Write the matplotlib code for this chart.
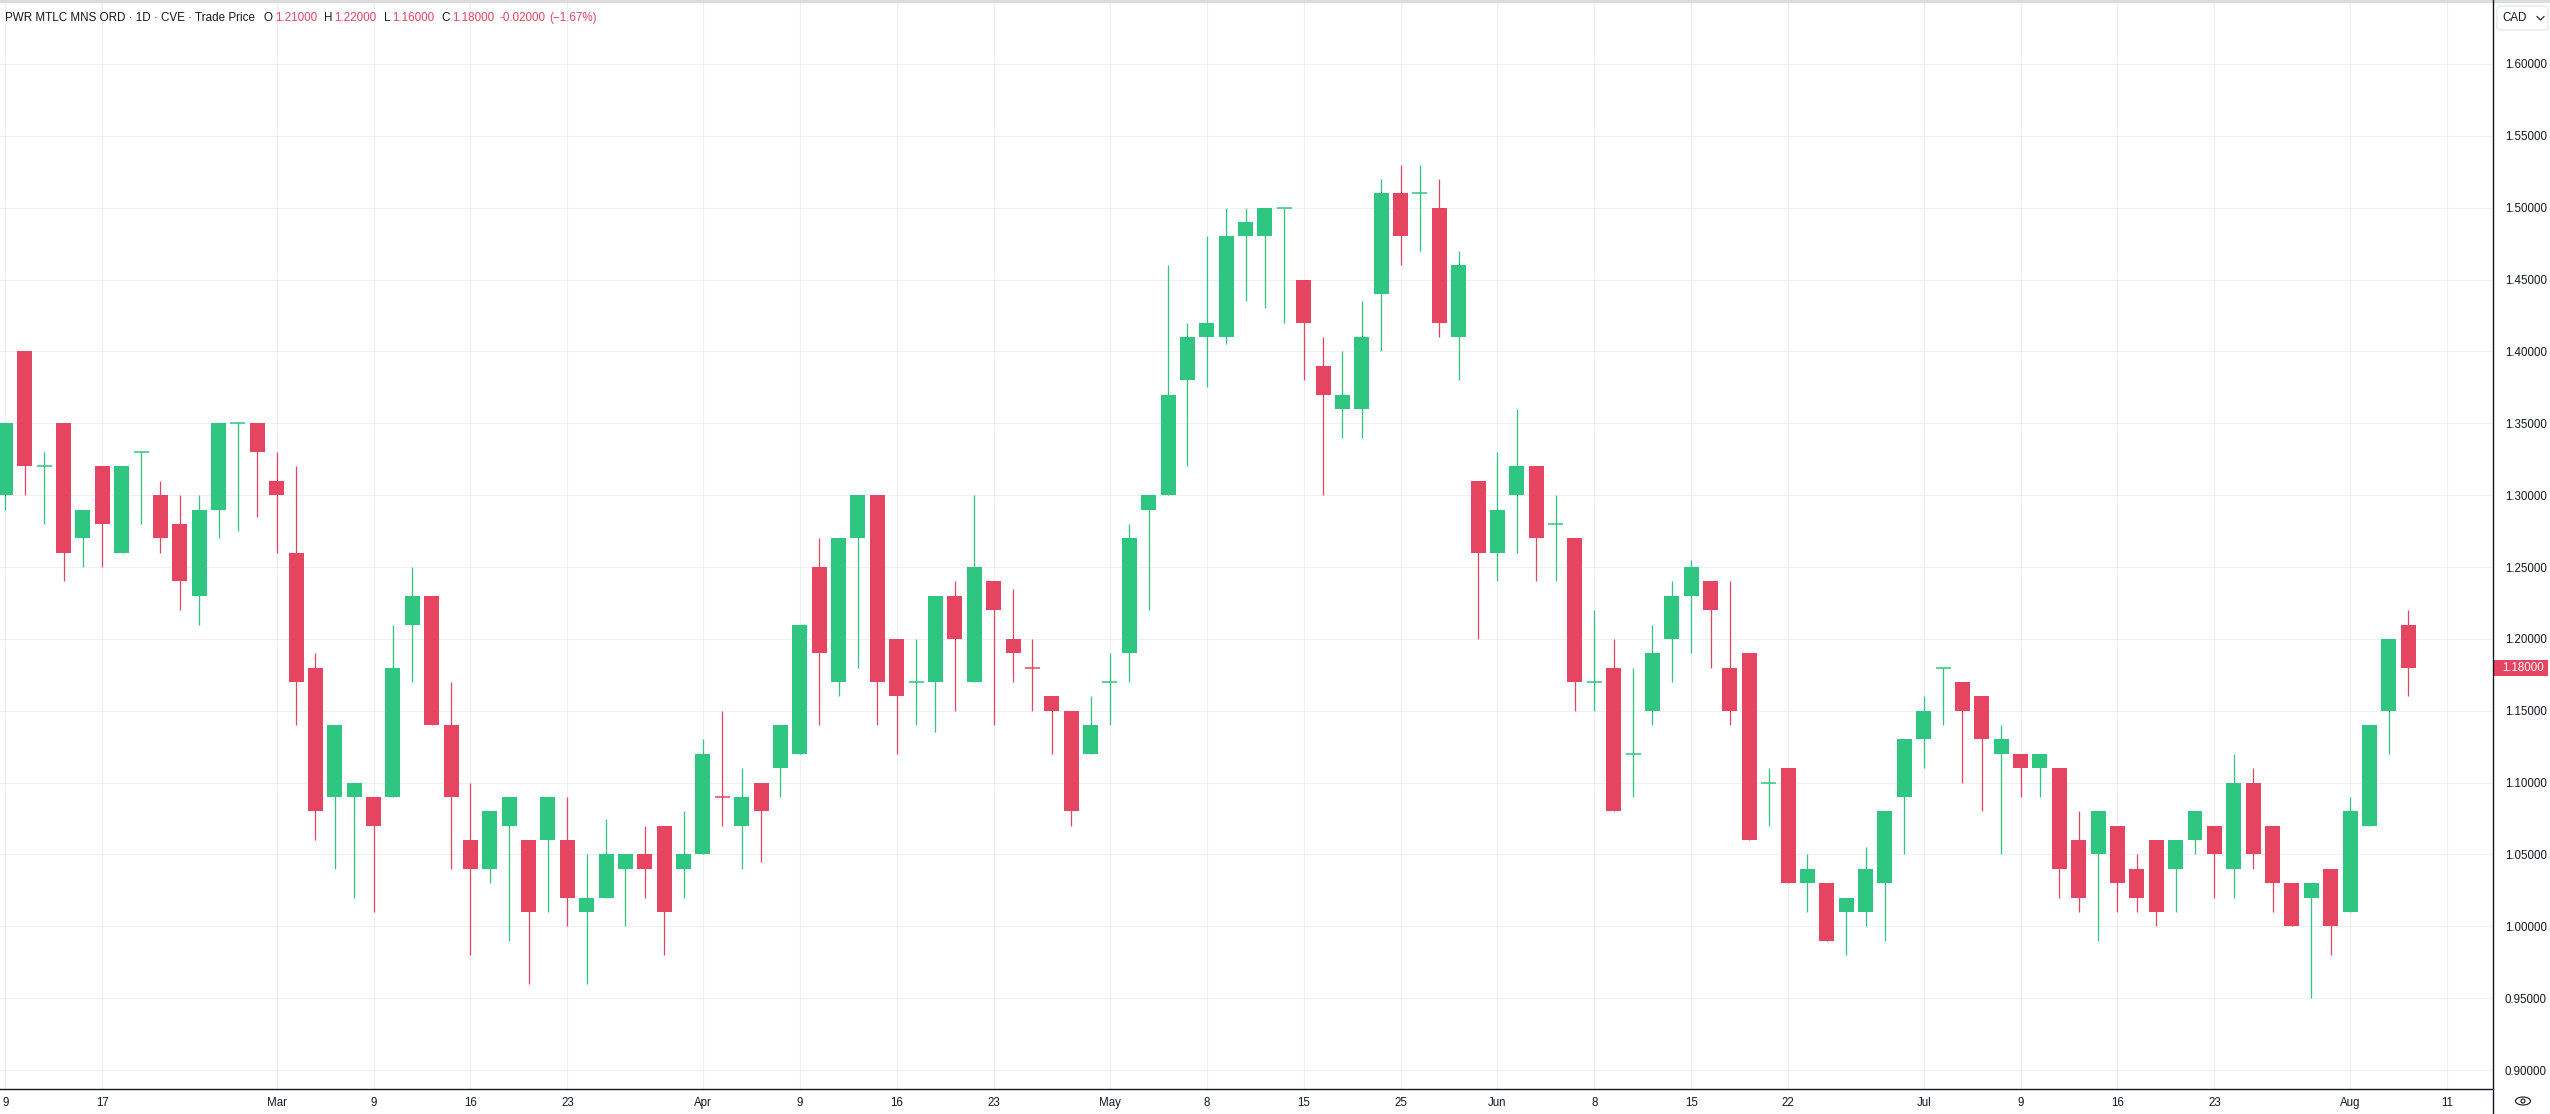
import numpy as np
import pandas as pd
import matplotlib
matplotlib.use('Agg')
import matplotlib.pyplot as plt
import matplotlib.transforms as mtransforms
from matplotlib.patches import Ellipse, FancyBboxPatch, Rectangle
from matplotlib.lines import Line2D

plt.rcParams['font.family'] = ['Liberation Sans', 'DejaVu Sans']

# -----------------------------
# data (daily OHLC, CVE, CAD)
# -----------------------------
opens = [1.30, 1.40, 1.32, 1.35, 1.27, 1.32, 1.26, 1.33, 1.30, 1.28,
         1.23, 1.29, 1.35, 1.35, 1.31, 1.26, 1.18, 1.09, 1.09, 1.09,
         1.09, 1.21, 1.23, 1.14, 1.06, 1.04, 1.07, 1.06, 1.06, 1.06,
         1.01, 1.02, 1.04, 1.05, 1.07, 1.04, 1.05, 1.09, 1.07, 1.10,
         1.11, 1.12, 1.25, 1.17, 1.27, 1.30, 1.20, 1.17, 1.17, 1.23,
         1.17, 1.24, 1.20, 1.18, 1.16, 1.15, 1.12, 1.17, 1.19, 1.29,
         1.30, 1.38, 1.41, 1.41, 1.48, 1.48, 1.50, 1.45, 1.39, 1.36,
         1.36, 1.44, 1.51, 1.51, 1.50, 1.41, 1.31, 1.26, 1.30, 1.32,
         1.28, 1.27, 1.17, 1.18, 1.12, 1.15, 1.20, 1.23, 1.24, 1.18,
         1.19, 1.10, 1.11, 1.03, 1.03, 1.01, 1.01, 1.03, 1.09, 1.13,
         1.18, 1.17, 1.16, 1.12, 1.12, 1.11, 1.11, 1.06, 1.05, 1.07,
         1.04, 1.06, 1.04, 1.06, 1.07, 1.04, 1.10, 1.07, 1.03, 1.02,
         1.04, 1.01, 1.07, 1.15, 1.21]
highs = [1.35, 1.40, 1.33, 1.35, 1.29, 1.32, 1.32, 1.33, 1.31, 1.30,
         1.30, 1.35, 1.35, 1.35, 1.33, 1.32, 1.19, 1.14, 1.10, 1.09,
         1.21, 1.25, 1.23, 1.17, 1.10, 1.08, 1.09, 1.06, 1.09, 1.09,
         1.05, 1.075, 1.05, 1.07, 1.07, 1.08, 1.13, 1.15, 1.11, 1.10,
         1.14, 1.21, 1.27, 1.27, 1.30, 1.30, 1.20, 1.20, 1.23, 1.24,
         1.30, 1.24, 1.235, 1.20, 1.16, 1.15, 1.16, 1.19, 1.28, 1.30,
         1.46, 1.42, 1.48, 1.50, 1.50, 1.50, 1.50, 1.45, 1.41, 1.40,
         1.435, 1.52, 1.53, 1.53, 1.52, 1.47, 1.31, 1.33, 1.36, 1.32,
         1.30, 1.27, 1.22, 1.20, 1.18, 1.21, 1.24, 1.255, 1.24, 1.24,
         1.19, 1.11, 1.11, 1.05, 1.03, 1.02, 1.055, 1.08, 1.13, 1.16,
         1.18, 1.17, 1.16, 1.14, 1.12, 1.12, 1.11, 1.08, 1.08, 1.07,
         1.05, 1.06, 1.06, 1.08, 1.07, 1.12, 1.11, 1.07, 1.03, 1.03,
         1.04, 1.09, 1.14, 1.20, 1.22]
lows = [1.29, 1.30, 1.28, 1.24, 1.25, 1.25, 1.26, 1.28, 1.26, 1.22,
        1.21, 1.27, 1.275, 1.285, 1.26, 1.14, 1.06, 1.04, 1.02, 1.01,
        1.09, 1.17, 1.14, 1.04, 0.98, 1.03, 0.99, 0.96, 1.01, 1.00,
        0.96, 1.02, 1.00, 1.02, 0.98, 1.02, 1.05, 1.07, 1.04, 1.045,
        1.09, 1.12, 1.14, 1.16, 1.18, 1.14, 1.12, 1.14, 1.135, 1.15,
        1.17, 1.14, 1.17, 1.15, 1.12, 1.07, 1.12, 1.14, 1.17, 1.22,
        1.30, 1.32, 1.375, 1.405, 1.435, 1.43, 1.42, 1.38, 1.30, 1.34,
        1.34, 1.40, 1.46, 1.47, 1.41, 1.38, 1.20, 1.24, 1.26, 1.24,
        1.24, 1.15, 1.15, 1.08, 1.09, 1.14, 1.17, 1.19, 1.18, 1.14,
        1.06, 1.07, 1.03, 1.01, 0.99, 0.98, 1.00, 0.99, 1.05, 1.11,
        1.14, 1.10, 1.08, 1.05, 1.09, 1.09, 1.02, 1.01, 0.99, 1.01,
        1.01, 1.00, 1.01, 1.05, 1.02, 1.02, 1.04, 1.01, 1.00, 0.95,
        0.98, 1.01, 1.07, 1.12, 1.16]
closes = [1.35, 1.32, 1.32, 1.26, 1.29, 1.28, 1.32, 1.33, 1.27, 1.24,
          1.29, 1.35, 1.35, 1.33, 1.30, 1.17, 1.08, 1.14, 1.10, 1.07,
          1.18, 1.23, 1.14, 1.09, 1.04, 1.08, 1.09, 1.01, 1.09, 1.02,
          1.02, 1.05, 1.05, 1.04, 1.01, 1.05, 1.12, 1.09, 1.09, 1.08,
          1.14, 1.21, 1.19, 1.27, 1.30, 1.17, 1.16, 1.17, 1.23, 1.20,
          1.25, 1.22, 1.19, 1.18, 1.15, 1.08, 1.14, 1.17, 1.27, 1.30,
          1.37, 1.41, 1.42, 1.48, 1.49, 1.50, 1.50, 1.42, 1.37, 1.37,
          1.41, 1.51, 1.48, 1.51, 1.42, 1.46, 1.26, 1.29, 1.32, 1.27,
          1.28, 1.17, 1.17, 1.08, 1.12, 1.19, 1.23, 1.25, 1.22, 1.15,
          1.06, 1.10, 1.03, 1.04, 0.99, 1.02, 1.04, 1.08, 1.13, 1.15,
          1.18, 1.15, 1.13, 1.13, 1.11, 1.12, 1.04, 1.02, 1.08, 1.03,
          1.02, 1.01, 1.06, 1.08, 1.05, 1.10, 1.05, 1.03, 1.00, 1.03,
          1.00, 1.08, 1.14, 1.20, 1.18]

first_day = '2026-02-09'
holidays = ['2026-02-16', '2026-04-03', '2026-05-18', '2026-07-01', '2026-08-03']

tick_dates = ['2026-02-09', '2026-02-17', '2026-03-02', '2026-03-09', '2026-03-16',
              '2026-03-23', '2026-04-01', '2026-04-09', '2026-04-16', '2026-04-23',
              '2026-05-01', '2026-05-08', '2026-05-15', '2026-05-25', '2026-06-01',
              '2026-06-08', '2026-06-15', '2026-06-22', '2026-07-02', '2026-07-09',
              '2026-07-16', '2026-07-23', '2026-08-04', '2026-08-11']
tick_labels = ['9', '17', 'Mar', '9', '16', '23', 'Apr', '9', '16', '23',
               'May', '8', '15', '25', 'Jun', '8', '15', '22', 'Jul', '9',
               '16', '23', 'Aug', '11']

price_ticks = [0.90, 0.95, 1.00, 1.05, 1.10, 1.15, 1.20, 1.25,
               1.30, 1.35, 1.40, 1.45, 1.50, 1.55, 1.60]

# -----------------------------
# trading day index
# -----------------------------
days = pd.bdate_range(first_day, '2026-08-21')
days = days[~days.isin(pd.to_datetime(holidays))]
day_idx = {d: i for i, d in enumerate(days)}
tick_pos = [day_idx[pd.Timestamp(d)] for d in tick_dates]

o = np.array(opens); h = np.array(highs); l = np.array(lows); c = np.array(closes)
n = len(c)
x = np.arange(n)

GREEN = '#2ec680'
RED = '#e54560'
TXT = '#131722'
prev_c = np.r_[c[0], c[:-1]]
up = (c > o) | ((c == o) & (c >= prev_c))
cols = np.where(up, GREEN, RED)

# -----------------------------
# figure / layout (pixels)
# -----------------------------
W, H = 2550, 1114
ax_right = 2493
ax_top, ax_bot = 2, 1089
fig = plt.figure(figsize=(W / 100, H / 100), dpi=100)
fig.patch.set_facecolor('white')
ax = fig.add_axes([0, (H - ax_bot) / H, ax_right / W, (ax_bot - ax_top) / H])

# price scale: 1.60 at y=64px, 0.05 per 71.86px
ppx = 0.05 / 71.86
ax.set_ylim(1.60 - (ax_bot - 64) * ppx, 1.60 + (64 - ax_top) * ppx)
spacing = 19.377
x0 = 5.4
ax.set_xlim(-x0 / spacing, (ax_right - x0) / spacing)

# candles
body_w = 0.774
ax.vlines(x, l, h, colors=cols, lw=0.9, zorder=2)
has_body = c != o
bot = np.minimum(o, c)
ax.bar(x[has_body], np.abs(c - o)[has_body], bottom=bot[has_body], width=body_w,
       color=cols[has_body], linewidth=0, zorder=3)
doji = ~has_body
ax.hlines(c[doji], x[doji] - body_w / 2, x[doji] + body_w / 2, colors=cols[doji],
          lw=1.1, zorder=3)

# axes styling
for s in ax.spines.values():
    s.set_visible(False)
ax.set_yticks(price_ticks)
ax.set_yticklabels([f'{p:.5f}' for p in price_ticks])
ax.yaxis.tick_right()
ax.tick_params(axis='y', length=0, pad=8.5, labelsize=8.3, labelcolor=TXT)
ax.set_xticks(tick_pos)
ax.set_xticklabels(tick_labels)
ax.tick_params(axis='x', length=0, pad=5.5, labelsize=8.3, labelcolor=TXT)
ax.grid(True, color='#f0f0f0', lw=0.8, zorder=0)
ax.set_axisbelow(True)

# axis lines
fig.add_artist(Line2D([ax_right / W] * 2, [0, 1], transform=fig.transFigure,
                      color=TXT, lw=1.0))
fig.add_artist(Line2D([0, ax_right / W], [(H - ax_bot) / H] * 2,
                      transform=fig.transFigure, color=TXT, lw=1.0))
fig.add_artist(Rectangle((0, 1 - 3 / H), 1, 3 / H, transform=fig.transFigure,
                         facecolor='#dcdcdc', edgecolor='none'))

# last price tag
tr = mtransforms.blended_transform_factory(fig.transFigure, ax.transData)
last = c[-1]
tag_h = 16 * ppx
fig.add_artist(Rectangle((ax_right / W, last - tag_h / 2), 55 / W, tag_h,
                         transform=tr, facecolor=RED, edgecolor='none', clip_on=False))
fig.text(2502 / W, last, f'{last:.5f}', transform=tr, color='white', fontsize=8.3,
         va='center', ha='left')

# currency box
fig.add_artist(FancyBboxPatch((2497 / W, 1 - 30 / H), 51 / W, 24 / H,
                              boxstyle='round,pad=0,rounding_size=0.002',
                              transform=fig.transFigure, facecolor='white',
                              edgecolor='#e0e3eb', lw=0.8))
fig.text(2502 / W, 1 - 18 / H, 'CAD', color=TXT, fontsize=8.3, va='center', ha='left')
fig.add_artist(Line2D([2537 / W, 2540.5 / W, 2544 / W],
                      [1 - 16.5 / H, 1 - 20 / H, 1 - 16.5 / H],
                      transform=fig.transFigure, color=TXT, lw=0.8))

# eye icon bottom right
fig.add_artist(Ellipse((2523 / W, 1 - 1101 / H), 15 / W, 8 / H, transform=fig.transFigure,
                       fill=False, edgecolor=TXT, lw=0.8))
fig.add_artist(Ellipse((2523 / W, 1 - 1101 / H), 4 / W, 4 / H, transform=fig.transFigure,
                       fill=False, edgecolor=TXT, lw=0.8))

# header line
chg = c[-1] - c[-2]
pct = chg / c[-2] * 100
pieces = [('PWR MTLC MNS ORD · 1D · CVE · Trade Price', TXT, 9),
          ('O', TXT, 2), (f'{o[-1]:.5f}', RED, 7),
          ('H', TXT, 2), (f'{h[-1]:.5f}', RED, 7),
          ('L', TXT, 2), (f'{l[-1]:.5f}', RED, 7),
          ('C', TXT, 2), (f'{c[-1]:.5f}', RED, 6),
          (f'{chg:.5f}', RED, 3), (f'(\u2212{abs(pct):.2f}%)', RED, 0)]
renderer = fig.canvas.get_renderer()
xpos = 5
for txt, col, gap in pieces:
    t = fig.text(xpos / W, 1 - 18 / H, txt, color=col, fontsize=8.4, va='center', ha='left')
    bb = t.get_window_extent(renderer=renderer)
    xpos = bb.x1 + gap

fig.savefig('out.png', dpi=100, facecolor='white')
